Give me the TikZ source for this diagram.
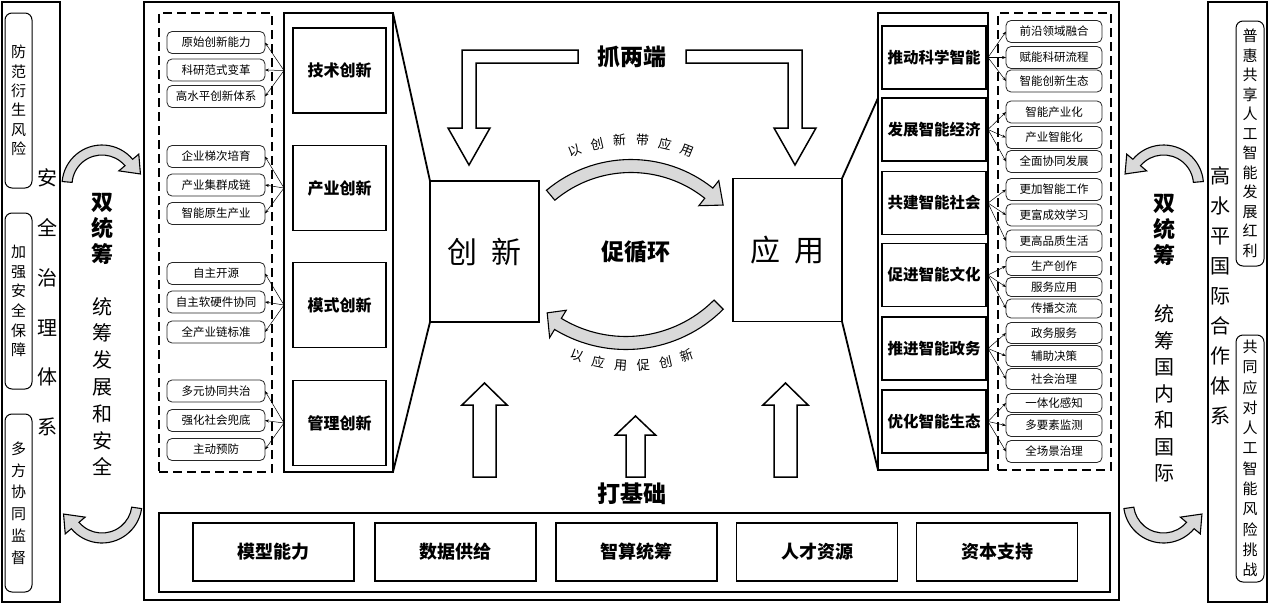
\documentclass[tikz,border=0pt]{standalone}
\usepackage{fontspec}
\setmainfont{Noto Sans CJK SC}
\usetikzlibrary{arrows.meta,calc}
\newcommand\grayarc[9]{%
  \begin{scope}[shift={(#1,#2)}]
    \pgfmathsetmacro\gaRo{#3+#4}\pgfmathsetmacro\gaRi{#3-#4}%
    \pgfmathsetmacro\gaHo{#3+#5}\pgfmathsetmacro\gaHi{#3-#5}%
    \draw[garrow] (#6:\gaRo) arc[start angle=#6, end angle=#7, radius=\gaRo]
      -- (#7:\gaHo) -- (#8:#9) -- (#7:\gaHi) -- (#7:\gaRi)
      arc[start angle=#7, end angle=#6, radius=\gaRi] -- cycle;
  \end{scope}}
\tikzset{
  every node/.style={inner sep=0pt, outer sep=0pt},
  sidebox/.style={draw, line width=1.2pt},
  rbox/.style={draw, line width=1pt, rounded corners=7pt, align=center},
  item/.style={draw=black!85, line width=0.8pt, rounded corners=5pt, minimum width=98pt, minimum height=22pt, font=\fontsize{11.5}{12}\selectfont},
  ritem/.style={item, minimum width=96pt, minimum height=22pt},
  sub/.style={draw, line width=1.5pt, minimum width=93pt, minimum height=85pt, font=\bfseries\fontsize{16}{18}\selectfont},
  rsub/.style={draw, line width=1.5pt, minimum width=104pt, minimum height=63pt, font=\bfseries\fontsize{15.5}{18}\selectfont},
  bsub/.style={draw, line width=1.3pt, minimum width=161pt, minimum height=58pt, font=\bfseries\fontsize{18}{20}\selectfont},
  panel/.style={draw, line width=1.5pt},
  dpanel/.style={draw, line width=1.5pt, dash pattern=on 9pt off 5pt},
  conn/.style={line width=0.5pt, -{Stealth[length=4pt,width=3pt]}},
  hollow/.style={draw, line width=1.5pt, fill=white, line join=miter},
  garrow/.style={draw, line width=1.1pt, fill=gray!30, line join=miter},
  big/.style={font=\bfseries\fontsize{23}{25}\selectfont},
  arclbl/.style={font=\fontsize{13}{13}\selectfont},
  trap/.style={line width=1.8pt},
}
\begin{document}
\begin{tikzpicture}[x=1pt,y=1pt]
\fill[white] (0,0) rectangle (1269,-605);
\useasboundingbox (0,0) rectangle (1269,-605);

% ---------- left side ----------
\node[sidebox, minimum width=58pt, minimum height=600pt] (LB) at (31,-302) {};
\node[rbox, minimum width=27pt, minimum height=175pt, font=\fontsize{15}{19.3}\selectfont] (L1) at (18.5,-100.5) {防\\范\\衍\\生\\风\\险};
\node[rbox, minimum width=27pt, minimum height=176pt, font=\fontsize{15}{19.6}\selectfont] (L2) at (18.5,-301) {加\\强\\安\\全\\保\\障};
\node[rbox, minimum width=27pt, minimum height=178pt, font=\fontsize{15}{21.8}\selectfont] (L3) at (18.5,-503) {多\\方\\协\\同\\监\\督};
\node[font=\fontsize{20}{49.8}\selectfont, align=center] (LSX) at (47,-302.5) {安\\全\\治\\理\\体\\系};
\node[font=\bfseries\fontsize{22}{26}\selectfont, align=center] (DL) at (102,-229) {双\\统\\筹};
\node[font=\fontsize{20}{26.8}\selectfont, align=center] (DL2) at (102,-386.5) {统\\筹\\发\\展\\和\\安\\全};

% ---------- right side ----------
\node[sidebox, minimum width=59pt, minimum height=600pt] (RB) at (1237.5,-302) {};
\node[rbox, minimum width=28pt, minimum height=245pt, font=\fontsize{15}{19.5}\selectfont] (R1) at (1250,-143.5) {普\\惠\\共\\享\\人\\工\\智\\能\\发\\展\\红\\利};
\node[rbox, minimum width=28pt, minimum height=247pt, font=\fontsize{15}{20.3}\selectfont] (R2) at (1250,-458.5) {共\\同\\应\\对\\人\\工\\智\\能\\风\\险\\挑\\战};
\node[font=\fontsize{20}{30}\selectfont, align=center] (RSX) at (1220,-296) {高\\水\\平\\国\\际\\合\\作\\体\\系};
\node[font=\bfseries\fontsize{22}{26}\selectfont, align=center] (DR) at (1164,-230) {双\\统\\筹};
\node[font=\fontsize{20}{26.5}\selectfont, align=center] (DR2) at (1164,-393.5) {统\\筹\\国\\内\\和\\国\\际};

% ---------- main frame ----------
\node[draw, line width=2pt, minimum width=975pt, minimum height=598pt] (MB) at (631.5,-301) {};

% gray curved arrows between frames
\grayarc{102}{-185}{35}{5}{13}{175}{40}{16}{40}
\grayarc{102}{-503}{35}{5}{13}{-8}{-140}{-164}{40}
\grayarc{1163.5}{-185}{35}{5}{13}{5}{140}{164}{40}
\grayarc{1163.5}{-503}{35}{5}{13}{-172}{-40}{-16}{40}

% ---------- left panel ----------
\node[dpanel, minimum width=113pt, minimum height=459pt] (LD) at (215.5,-242.5) {};
\node[panel, minimum width=109pt, minimum height=459pt] (LS) at (338.5,-242.5) {};
\node[sub] (T1) at (339.5,-70.5) {技术创新};
\node[sub] (T2) at (339.5,-188) {产业创新};
\node[sub] (T3) at (339.5,-305) {模式创新};
\node[sub] (T4) at (339.5,-423) {管理创新};

\node[item] (a1) at (216,-42.5) {原始创新能力};
\node[item] (a2) at (216,-70) {科研范式变革};
\node[item] (a3) at (216,-96.5) {高水平创新体系};
\node[item] (b1) at (216,-156.5) {企业梯次培育};
\node[item] (b2) at (216,-185) {产业集群成链};
\node[item] (b3) at (216,-213.5) {智能原生产业};
\node[item] (c1) at (216,-273.5) {自主开源};
\node[item] (c2) at (216,-302) {自主软硬件协同};
\node[item] (c3) at (216,-332) {全产业链标准};
\node[item] (d1) at (216,-391) {多元协同共治};
\node[item] (d2) at (216,-420.5) {强化社会兜底};
\node[item] (d3) at (216,-449.5) {主动预防};
\foreach \t/\g in {T1/a,T2/b,T3/c,T4/d}{
  \foreach \k in {1,2,3}{\draw[conn] (LS.west |- \t.center) -- (\g\k.east);}
}

% ---------- center ----------
\node[draw, line width=1.5pt, minimum width=109pt, minimum height=141pt, font=\fontsize{30}{30}\selectfont] (CX) at (484.5,-251.5) {创\hspace{0.45em}新};
\node[draw, line width=1.5pt, minimum width=109pt, minimum height=143pt, font=\fontsize{30}{30}\selectfont] (YY) at (787.5,-250) {应\hspace{0.45em}用};
\draw[trap] (LS.north east) -- (CX.north west);
\draw[trap] (LS.south east) -- (CX.south west);

\node[big] (ZL) at (632,-57) {抓两端};
\node[big] (XH) at (636,-252) {促循环};
\node[big] (JC) at (632,-494) {打基础};

% hollow down arrows
\draw[hollow] (578,-50) -- (462,-50) -- (462,-128) -- (448,-128) -- (469,-165) -- (490,-128) -- (476,-128) -- (476,-63) -- (578,-63) -- cycle;
\draw[hollow] (686,-50) -- (802,-50) -- (802,-128) -- (816,-128) -- (795,-165) -- (774,-128) -- (788,-128) -- (788,-63) -- (686,-63) -- cycle;
% hollow up arrows
\draw[hollow] (473,-477) -- (473,-405) -- (462,-405) -- (484.5,-383) -- (507,-405) -- (496,-405) -- (496,-477) -- cycle;
\draw[hollow] (626,-477) -- (626,-435) -- (615.5,-435) -- (635.5,-416) -- (655.5,-435) -- (645,-435) -- (645,-477) -- cycle;
\draw[hollow] (774,-477) -- (774,-405) -- (763,-405) -- (785.5,-383) -- (808,-405) -- (797,-405) -- (797,-477) -- cycle;

% circulation arrows
\grayarc{631}{-291}{125}{6.5}{16}{130}{51.5}{43}{126}
\grayarc{626}{-212}{131}{6.5}{16}{-45}{-121.3}{-128}{128}
\foreach \c [count=\i] in {以,创,新,带,应,用}{
  \pgfmathsetmacro\ang{111.7-(\i-1)*8.68}
  \node[arclbl, rotate=\ang-90] (ta\i) at ($(631,-291)+(\ang:151)$) {\c};
}
\foreach \c [count=\i] in {以,应,用,促,创,新}{
  \pgfmathsetmacro\ang{-111+(\i-1)*8.4}
  \node[arclbl, rotate=\ang+90] (ba\i) at ($(632,-212)+(\ang:154)$) {\c};
}

% ---------- right panel ----------
\node[panel, minimum width=110pt, minimum height=457pt] (RS) at (933,-241.5) {};
\node[dpanel, minimum width=113pt, minimum height=457pt] (RD) at (1054.5,-241.5) {};
\node[rsub] (P1) at (934,-57.5) {推动科学智能};
\node[rsub] (P2) at (934,-129.5) {发展智能经济};
\node[rsub] (P3) at (934,-203) {共建智能社会};
\node[rsub] (P4) at (934,-275) {促进智能文化};
\node[rsub] (P5) at (934,-348.5) {推进智能政务};
\node[rsub] (P6) at (934,-421.5) {优化智能生态};
\draw[trap] (YY.north east) -- (RS.west |- P2.north);
\draw[trap] (YY.south east) -- (RS.south west);

\node[ritem] (p11) at (1054,-31.5) {前沿领域融合};
\node[ritem] (p12) at (1054,-57.5) {赋能科研流程};
\node[ritem] (p13) at (1054,-81) {智能创新生态};
\node[ritem] (p21) at (1054,-112) {智能产业化};
\node[ritem] (p22) at (1054,-137.5) {产业智能化};
\node[ritem] (p23) at (1054,-161.5) {全面协同发展};
\node[ritem] (p31) at (1054,-189.5) {更加智能工作};
\node[ritem] (p32) at (1054,-215) {更富成效学习};
\node[ritem] (p33) at (1054,-241) {更高品质生活};
\node[ritem, minimum height=19pt] (p41) at (1054,-266) {生产创作};
\node[ritem, minimum height=19pt] (p42) at (1054,-287) {服务应用};
\node[ritem, minimum height=19pt] (p43) at (1054,-308.5) {传播交流};
\node[ritem, minimum height=21pt] (p51) at (1054,-333) {政务服务};
\node[ritem, minimum height=21pt] (p52) at (1054,-356) {辅助决策};
\node[ritem, minimum height=21pt] (p53) at (1054,-379) {社会治理};
\node[ritem, minimum height=19pt] (p61) at (1054,-403) {一体化感知};
\node[ritem] (p62) at (1054,-425.5) {多要素监测};
\node[ritem] (p63) at (1054,-451.5) {全场景治理};
\foreach \i in {1,...,6}{
  \foreach \k in {1,2,3}{\draw[conn] (RS.east |- P\i.center) -- (p\i\k.west);}
}

% ---------- foundation ----------
\node[draw, line width=1.3pt, minimum width=951pt, minimum height=79pt] (BB) at (634.5,-552.5) {};
\node[bsub] (B1) at (273.5,-552) {模型能力};
\node[bsub] (B2) at (455.5,-552) {数据供给};
\node[bsub] (B3) at (636.5,-552) {智算统筹};
\node[bsub] (B4) at (817,-552) {人才资源};
\node[bsub] (B5) at (997,-552) {资本支持};
\end{tikzpicture}
\end{document}
